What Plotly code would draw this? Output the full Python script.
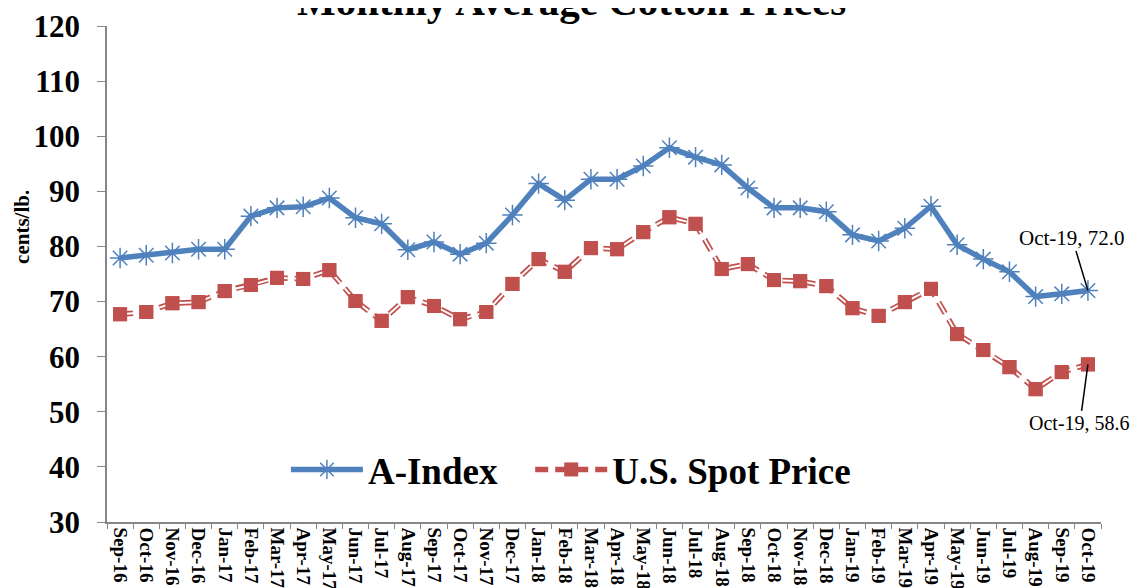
import plotly.graph_objects as go

months = ["Sep-16", "Oct-16", "Nov-16", "Dec-16",
          "Jan-17", "Feb-17", "Mar-17", "Apr-17", "May-17", "Jun-17",
          "Jul-17", "Aug-17", "Sep-17", "Oct-17", "Nov-17", "Dec-17",
          "Jan-18", "Feb-18", "Mar-18", "Apr-18", "May-18", "Jun-18",
          "Jul-18", "Aug-18", "Sep-18", "Oct-18", "Nov-18", "Dec-18",
          "Jan-19", "Feb-19", "Mar-19", "Apr-19", "May-19", "Jun-19",
          "Jul-19", "Aug-19", "Sep-19", "Oct-19"]

a_index = [77.9, 78.4, 78.8, 79.5,
           79.5, 85.5, 87.0, 87.2, 88.8, 85.2, 84.1, 79.4, 80.8, 78.6, 80.6, 85.7,
           91.4, 88.4, 92.2, 92.2, 94.6, 97.9, 96.2, 94.8, 90.6, 87.0, 87.0, 86.3,
           82.1, 81.0, 83.3, 87.3, 80.3, 77.7, 75.4, 70.9, 71.4, 72.0]

us_spot = [67.7, 68.1, 69.7, 69.9,
           71.9, 73.0, 74.3, 74.1, 75.7, 70.1, 66.5, 70.8, 69.2, 66.8, 68.1, 73.2,
           77.7, 75.4, 79.7, 79.5, 82.6, 85.3, 84.1, 75.9, 76.8, 73.9, 73.7, 72.8,
           68.8, 67.4, 69.9, 72.3, 64.1, 61.2, 58.1, 54.1, 57.2, 58.6]

y_ticks = [30, 40, 50, 60, 70, 80, 90, 100, 110, 120]

BLUE = "#4F81BD"
RED = "#C0504D"
SERIF = "Liberation Serif"
NBSP = "\u00a0"

fig = go.Figure()

fig.add_trace(go.Scatter(
    x=months, y=a_index, name="A-Index" + NBSP * 3, mode="lines+markers",
    line=dict(color=BLUE, width=5.5),
    marker=dict(symbol="asterisk-open", size=17, color=BLUE,
                line=dict(color=BLUE, width=1.5)),
))

fig.add_trace(go.Scatter(
    x=months, y=us_spot, name="U.S. Spot Price", mode="lines+markers",
    line=dict(color=RED, width=5.5, dash="13px,7px"),
    marker=dict(symbol="square", size=14, color=RED),
))
fig.add_trace(go.Scatter(
    x=months, y=us_spot, showlegend=False, mode="lines", hoverinfo="skip",
    line=dict(color="white", width=2, dash="13px,7px"),
))
fig.add_trace(go.Scatter(
    x=months, y=us_spot, showlegend=False, mode="markers", hoverinfo="skip",
    marker=dict(symbol="square", size=14, color=RED),
))

fig.update_layout(
    width=1131, height=580,
    margin=dict(l=99, r=38, t=18, b=66),
    paper_bgcolor="white", plot_bgcolor="white",
    font=dict(family=SERIF, color="black"),
    legend=dict(
        orientation="h", x=0.180, xanchor="left", y=0.105, yanchor="middle",
        font=dict(family=SERIF, size=37, weight="bold"),
        bgcolor="rgba(0,0,0,0)", itemwidth=72,
    ),
    xaxis=dict(
        type="category", range=[-0.5, len(months) - 0.5],
        showline=True, linecolor="#868686", linewidth=1.5,
        ticks="outside", ticklen=5, tickcolor="#868686", tickson="boundaries",
        tickangle=90, tickfont=dict(family=SERIF, size=19, weight="bold"),
        showgrid=False, zeroline=False, automargin=False,
    ),
    yaxis=dict(
        range=[30, 120], tickvals=y_ticks,
        showline=True, linecolor="#868686", linewidth=1.5,
        ticks="outside", ticklen=8, tickcolor="#868686",
        tickfont=dict(family=SERIF, size=31, weight="bold"),
        ticklabelstandoff=11,
        showgrid=False, zeroline=False, automargin=False,
    ),
    annotations=[
        dict(text="Monthly Average Cotton Prices", xref="paper", yref="paper",
             x=0.467, y=1.000, xanchor="center", yanchor="bottom", showarrow=False,
             font=dict(family=SERIF, size=41, weight="bold")),
        dict(text="cents/lb.", xref="paper", yref="paper", x=-0.0855, y=0.595,
             xanchor="center", yanchor="middle", textangle=-90, showarrow=False,
             font=dict(family=SERIF, size=21, weight="bold")),
        dict(text="Oct-19, 72.0", x="Oct-19", y=a_index[-1], xref="x", yref="y",
             showarrow=True, arrowhead=0, arrowwidth=1.5, arrowcolor="black",
             ax=-16, ay=-53, font=dict(family=SERIF, size=21)),
        dict(text="Oct-19, 58.6", x="Oct-19", y=us_spot[-1], xref="x", yref="y",
             showarrow=True, arrowhead=0, arrowwidth=1.5, arrowcolor="black",
             ax=-8, ay=59, font=dict(family=SERIF, size=20)),
    ],
)

fig.write_html("out.html")
